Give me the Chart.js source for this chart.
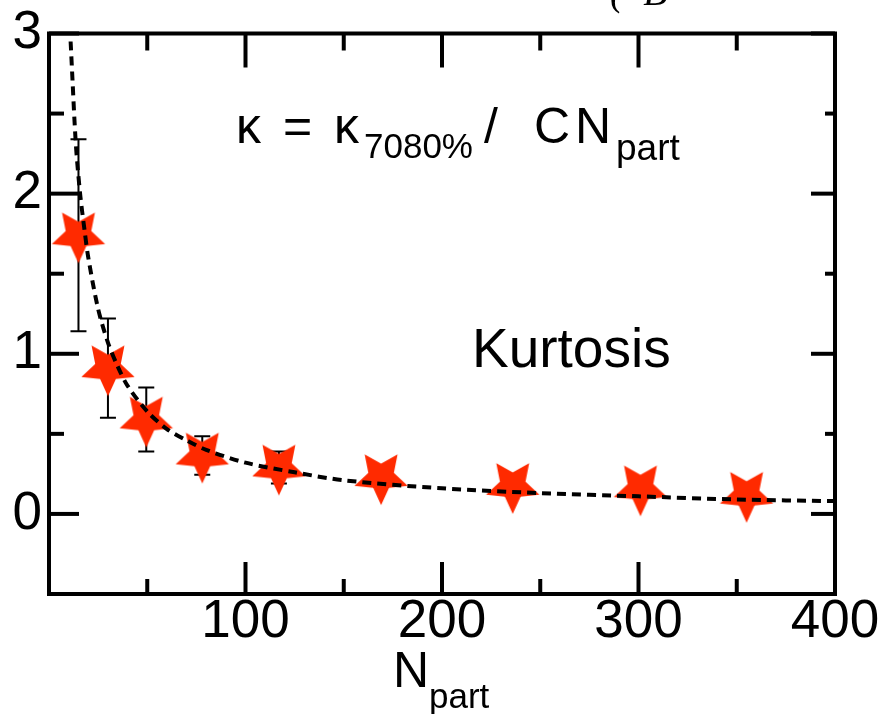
<!DOCTYPE html>
<html>
<head>
<meta charset="utf-8">
<style>
html, body { margin: 0; padding: 0; background: #fff; }
#cadre { position: relative; width: 884px; height: 714px; }
</style>
<script src="https://cdn.jsdelivr.net/npm/chart.js@4.4.1/dist/chart.umd.min.js"></script>
</head>
<body>
<div id="cadre"><canvas id="graphique" width="884" height="714"></canvas></div>
<script>
'use strict';

/* === DONNÉES === */
const NPART = [15, 30, 49.5, 78, 117, 169, 236, 301, 355];
const KURTOSIS = [1.74, 0.91, 0.59, 0.365, 0.29, 0.23, 0.175, 0.16, 0.12];
const ERREURS = [0.6, 0.31, 0.2, 0.12, 0.1, 0.06, 0.06, 0.06, 0.06];

// courbe pointillée
const COURBE_X = [11, 12, 13, 14, 16, 18, 20, 25, 30, 35, 40, 50, 60, 70, 80, 100, 125, 150, 200, 250, 300, 350, 400];
const COURBE_Y = [2.95, 2.7, 2.45, 2.25, 1.98, 1.78, 1.6, 1.28, 1.07, 0.92, 0.8, 0.64, 0.53, 0.46, 0.4, 0.32, 0.26, 0.21, 0.16, 0.13, 0.11, 0.09, 0.08];

const TICKS_X = [100, 200, 300, 400];
const TICKS_X_MINEURS = [50, 150, 250, 350];
const TICKS_Y = [0, 1, 2, 3];
const TICKS_Y_MINEURS = [0.5, 1.5, 2.5];

/* === CONSTANTES === */
const POLICE = '"Liberation Sans", Arial, Helvetica, sans-serif';
const ROUGE = '#ff2a00';

/* === HELPERS === */

function creerEtoile(rayon) {
  const taille = Math.ceil(rayon * 2 + 4);
  const c = document.createElement('canvas');
  c.width = taille;
  c.height = taille;
  const ctx = c.getContext('2d');
  const centre = taille / 2;
  const interieur = rayon * 0.48;
  ctx.beginPath();
  for (let k = 0; k < 10; k++) {
    const angle = Math.PI / 2 + k * Math.PI / 5;
    const r = k % 2 === 0 ? rayon : interieur;
    const px = centre + r * Math.cos(angle);
    const py = centre + r * Math.sin(angle);
    if (k === 0) ctx.moveTo(px, py); else ctx.lineTo(px, py);
  }
  ctx.closePath();
  ctx.fillStyle = ROUGE;
  ctx.fill();
  return c;
}

function texte(ctx, chaine, x, y, taille, style) {
  ctx.font = (style || '') + ' ' + taille + 'px ' + POLICE;
  ctx.fillText(chaine, x, y);
}

/* === PLUGINS === */

const pluginBarresErreur = {
  id: 'barresErreur',
  beforeDatasetsDraw(chart) {
    const { ctx, scales: { x, y } } = chart;
    ctx.save();
    ctx.strokeStyle = '#000';
    ctx.lineWidth = 2;
    NPART.forEach((n, i) => {
      const px = x.getPixelForValue(n);
      const haut = y.getPixelForValue(KURTOSIS[i] + ERREURS[i]);
      const bas = y.getPixelForValue(KURTOSIS[i] - ERREURS[i]);
      ctx.beginPath();
      ctx.moveTo(px, haut); ctx.lineTo(px, bas);
      ctx.moveTo(px - 8, haut); ctx.lineTo(px + 8, haut);
      ctx.moveTo(px - 8, bas); ctx.lineTo(px + 8, bas);
      ctx.stroke();
    });
    ctx.restore();
  }
};

const pluginCadre = {
  id: 'cadre',
  afterDraw(chart) {
    const { ctx, chartArea: { left, right, top, bottom }, scales: { x, y } } = chart;
    ctx.save();
    ctx.strokeStyle = '#000';
    ctx.lineWidth = 4;
    ctx.strokeRect(left, top, right - left, bottom - top);

    const trait = (x1, y1, x2, y2) => {
      ctx.beginPath(); ctx.moveTo(x1, y1); ctx.lineTo(x2, y2); ctx.stroke();
    };
    TICKS_X.forEach(v => {
      const px = x.getPixelForValue(v);
      trait(px, bottom, px, bottom - 32);
      trait(px, top, px, top + 34);
    });
    TICKS_X_MINEURS.forEach(v => {
      const px = x.getPixelForValue(v);
      trait(px, bottom, px, bottom - 15);
      trait(px, top, px, top + 17);
    });
    TICKS_Y.forEach(v => {
      const py = y.getPixelForValue(v);
      trait(left, py, left + 30, py);
      trait(right, py, right - 24, py);
    });
    TICKS_Y_MINEURS.forEach(v => {
      const py = y.getPixelForValue(v);
      trait(left, py, left + 15, py);
      trait(right, py, right - 10, py);
    });
    ctx.restore();
  }
};

const pluginTextes = {
  id: 'textes',
  afterDraw(chart) {
    const { ctx } = chart;
    ctx.save();
    ctx.fillStyle = '#000';
    ctx.textAlign = 'left';
    ctx.textBaseline = 'alphabetic';

    // formule
    texte(ctx, 'κ', 236, 143, 50);
    texte(ctx, '=', 283, 143, 50);
    texte(ctx, 'κ', 334, 143, 50);
    texte(ctx, '7080%', 364, 158, 35);
    texte(ctx, '/', 484, 143, 50);
    texte(ctx, 'C', 534, 143, 50);
    texte(ctx, 'N', 575, 143, 50);
    texte(ctx, 'part', 616, 160, 37);

    texte(ctx, 'Kurtosis', 472, 367, 55);

    // titre de l'axe x
    texte(ctx, 'N', 393, 687, 50);
    texte(ctx, 'part', 429, 708, 35);

    // texte coupé en haut
    ctx.font = 'italic 40px "Liberation Serif", serif';
    ctx.fillText('(· B', 610, 5);
    ctx.restore();
  }
};

/* === GRAPHIQUE === */

const etoile = creerEtoile(28);

new Chart(document.getElementById('graphique'), {
  type: 'scatter',
  data: {
    datasets: [
      {
        label: 'courbe',
        type: 'line',
        data: COURBE_X.map((v, i) => ({ x: v, y: COURBE_Y[i] })),
        borderColor: '#000',
        borderWidth: 4,
        borderDash: [9, 6],
        pointRadius: 0,
        tension: 0.3,
        fill: false,
        order: 0
      },
      {
        label: 'Kurtosis',
        data: NPART.map((v, i) => ({ x: v, y: KURTOSIS[i] })),
        pointStyle: etoile,
        pointRadius: 28,
        order: 1
      }
    ]
  },
  options: {
    responsive: false,
    animation: false,
    layout: { padding: { top: 32, right: 49, left: 0, bottom: 0 } },
    plugins: { legend: { display: false }, tooltip: { enabled: false } },
    scales: {
      x: {
        type: 'linear',
        min: 0,
        max: 400,
        afterBuildTicks: s => { s.ticks = TICKS_X.map(v => ({ value: v })); },
        afterFit: s => { s.height = 120; },
        grid: { display: false, drawTicks: false },
        border: { display: false },
        ticks: {
          color: '#000',
          font: { family: POLICE, size: 53, lineHeight: 1 },
          padding: 2,
          maxRotation: 0,
          autoSkip: false
        }
      },
      y: {
        type: 'linear',
        min: -0.5,
        max: 3,
        afterBuildTicks: s => { s.ticks = TICKS_Y.map(v => ({ value: v })); },
        afterFit: s => { s.width = 49; },
        grid: { display: false, drawTicks: false },
        border: { display: false },
        ticks: {
          color: '#000',
          font: { family: POLICE, size: 53, lineHeight: 1 },
          padding: 7
        }
      }
    }
  },
  plugins: [pluginBarresErreur, pluginCadre, pluginTextes]
});
</script>
</body>
</html>
